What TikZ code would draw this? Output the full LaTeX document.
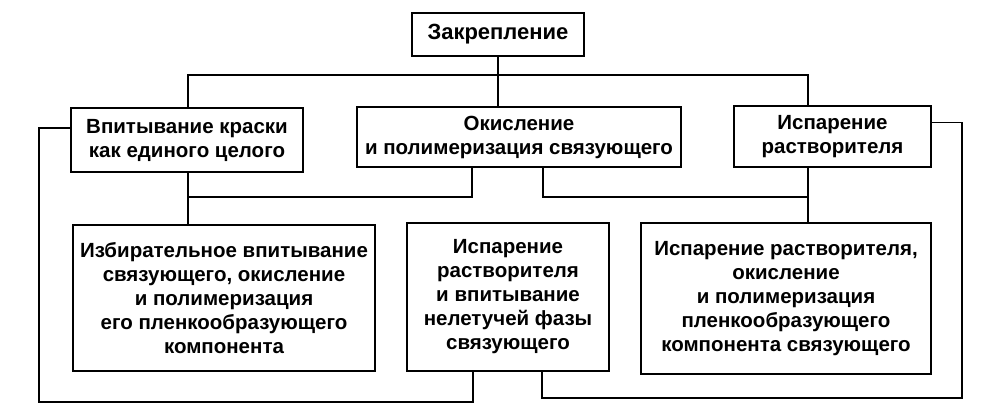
\documentclass[tikz,border=0pt]{standalone}
\usepackage{fontspec}
\setmainfont{Liberation Sans}
\usepackage{tikz}
\usetikzlibrary{positioning, calc}
\tikzset{
  box/.style={rectangle, draw=black, fill=white, align=center,
    inner sep=2pt, line width=1.1pt,
    font=\fontsize{20.5}{24}\selectfont\bfseries},
  link/.style={line width=1.1pt, color=black}
}

\begin{document}
\begin{tikzpicture}[x=1pt, y=-1pt]
    \useasboundingbox (0,0) rectangle (1005,415);
    % top level
    \node[box, minimum width=172pt, minimum height=43pt,
      font=\fontsize{22}{24}\selectfont\bfseries] (zakr) at (498,34.5) {Закрепление};
    % second level
    \node[box, minimum width=232pt, minimum height=64pt] (vpit) at (187,140) {Впитывание краски\\как единого целого};
    \node[box, minimum width=324pt, minimum height=60pt] (okisl) at (519,137) {Окисление\\и полимеризация связующего};
    \node[box, minimum width=197pt, minimum height=61pt] (isp) at (832.5,136.5) {Испарение\\растворителя};
    % third level
    \node[box, minimum width=302pt, minimum height=146pt] (izb) at (224,298) {Избирательное впитывание\\связующего, окисление\\и полимеризация\\его пленкообразующего\\компонента};
    \node[box, minimum width=202pt, minimum height=148pt] (nelet) at (508,297) {Испарение\\растворителя\\и впитывание\\нелетучей фазы\\связующего};
    \node[box, minimum width=290pt, minimum height=151pt] (plenk) at (786,298.5) {Испарение растворителя,\\окисление\\и полимеризация\\пленкообразующего\\компонента связующего};
    % bus lines
    \coordinate (lx) at (188,0);
    \coordinate (rx) at (808,0);
    \coordinate (topbus) at (0,75);
    \coordinate (midbus) at (0,197);
    \coordinate (lloop) at (39,402);
    \coordinate (rloop) at (962,398);
    \draw[link] (zakr.south) -- (zakr.south |- okisl.north);
    \draw[link] (lx |- vpit.north) |- (rx |- topbus) -- (rx |- isp.north);
    \draw[link] (lx |- vpit.south) -- (lx |- izb.north);
    \draw[link] (rx |- isp.south) -- (rx |- plenk.north);
    \draw[link] ([xshift=-47pt]okisl.south) |- (lx |- midbus);
    \draw[link] ([xshift=24pt]okisl.south) |- (rx |- midbus);
    % side loops to the middle box
    \draw[link] ([yshift=12pt]vpit.west) -| (lloop) -| ([xshift=-35pt]nelet.south);
    \draw[link] ([yshift=14pt]isp.east) -| (rloop) -| ([xshift=34pt]nelet.south);
\end{tikzpicture}
\end{document}
